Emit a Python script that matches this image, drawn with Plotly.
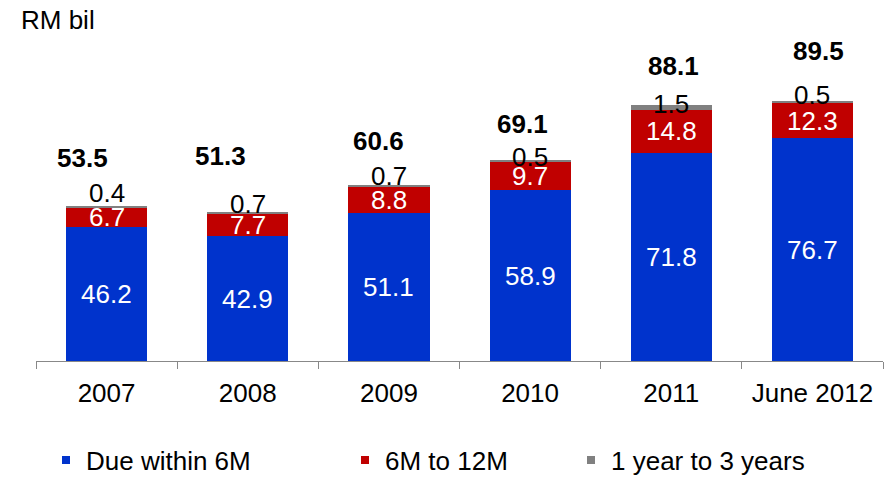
import plotly.graph_objects as go

# Maturity profile data (RM billion)
periods = ["2007", "2008", "2009", "2010", "2011", "June 2012"]
due_6m = [46.2, 42.9, 51.1, 58.9, 71.8, 76.7]
m6_to_12 = [6.7, 7.7, 8.8, 9.7, 14.8, 12.3]
y1_to_3 = [0.4, 0.7, 0.7, 0.5, 1.5, 0.5]
totals = [53.5, 51.3, 60.6, 69.1, 88.1, 89.5]

series_names = ["Due within 6M", "6M to 12M", "1 year to 3 years"]
colors = ["#0033CC", "#C00000", "#808080"]

# Pixel nudges for the hand-placed labels above each column
total_dx = [-24, -27, -10, -8, 2, 6]
total_dy = [48, 56, 44, 36, 39, 50]
small_dy = [13, 8, 9, 3, 1, 6]

FONT = "Liberation Sans, Arial, sans-serif"
FS = 26

fig = go.Figure()
for vals, name, col in zip([due_6m, m6_to_12, y1_to_3], series_names, colors):
    fig.add_trace(go.Bar(x=periods, y=vals, name=name, marker_color=col,
                         marker_line_width=0, showlegend=False))

# Legend entries with small square markers, one legend box each,
# kept on a hidden pair of axes so they do not touch the bar axes
legend_ids = ["legend", "legend2", "legend3"]
for name, col, lid in zip(series_names, colors, legend_ids):
    fig.add_trace(go.Scatter(x=[None], y=[None], mode="markers", name=name,
                             xaxis="x2", yaxis="y2",
                             marker=dict(symbol="square", size=8, color=col),
                             legend=lid, showlegend=True))

# Category positions by index (year-like strings would be read as numbers)
annotations = []
for i, p in enumerate(periods):
    b, r, g = due_6m[i], m6_to_12[i], y1_to_3[i]
    annotations.append(dict(x=i, y=b / 2, text=f"{b:.1f}", showarrow=False,
                            font=dict(family=FONT, size=FS, color="white")))
    annotations.append(dict(x=i, y=b + r / 2, text=f"{r:.1f}", showarrow=False,
                            font=dict(family=FONT, size=FS, color="white")))
    annotations.append(dict(x=i, y=b + r + g, yshift=small_dy[i], text=f"{g:.1f}",
                            showarrow=False,
                            font=dict(family=FONT, size=FS, color="black")))
    annotations.append(dict(x=i, y=totals[i], xshift=total_dx[i], yshift=total_dy[i],
                            text=f"<b>{totals[i]:.1f}</b>", showarrow=False,
                            font=dict(family=FONT, size=FS, color="black")))

annotations.append(dict(xref="paper", yref="paper", x=-0.02, y=1.062,
                        xanchor="left", yanchor="middle", text="RM bil",
                        showarrow=False,
                        font=dict(family=FONT, size=FS, color="black")))

legend_x = [46, 345, 571]
legend_common = dict(orientation="h", xref="container", yref="container",
                     yanchor="middle", xanchor="left", y=1 - 460 / 477,
                     font=dict(family=FONT, size=FS, color="black"),
                     bgcolor="rgba(0,0,0,0)", borderwidth=0)

fig.update_layout(
    width=889, height=477,
    margin=dict(l=36, r=6, t=40, b=116),
    paper_bgcolor="white", plot_bgcolor="white",
    barmode="stack", bargap=0.425,
    font=dict(family=FONT, size=FS, color="black"),
    xaxis=dict(type="category", categoryorder="array", categoryarray=periods,
               range=[-0.5, len(periods) - 0.5],
               showline=True, linecolor="#888888", linewidth=1,
               ticks="outside", tickson="boundaries", ticklen=7, tickcolor="#888888",
               ticklabelstandoff=9,
               tickfont=dict(family=FONT, size=FS, color="black"), tickangle=0,
               showgrid=False, zeroline=False, fixedrange=True),
    yaxis=dict(visible=False, range=[0, 110.6], showgrid=False, zeroline=False),
    xaxis2=dict(visible=False, overlaying="x", range=[0, 1]),
    yaxis2=dict(visible=False, overlaying="y", range=[0, 1]),
    annotations=annotations,
    legend=dict(x=legend_x[0] / 889, **legend_common),
    legend2=dict(x=legend_x[1] / 889, **legend_common),
    legend3=dict(x=legend_x[2] / 889, **legend_common),
)

fig.write_html("out.html")
